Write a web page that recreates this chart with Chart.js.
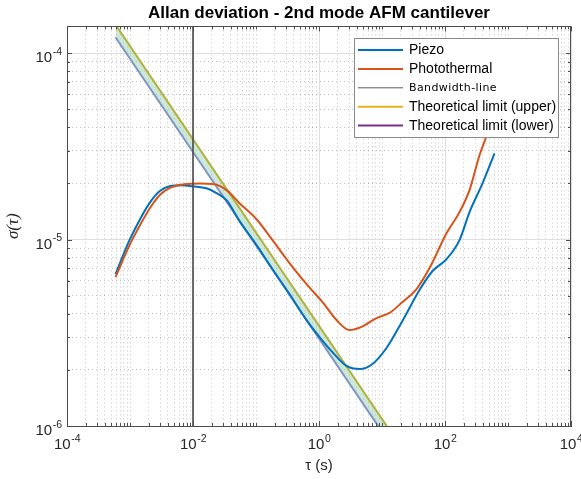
<!DOCTYPE html>
<html>
<head>
<meta charset="utf-8">
<script src="https://cdn.jsdelivr.net/npm/chart.js@4.4.1/dist/chart.umd.min.js"></script>
<style>
html,body{margin:0;padding:0;background:#ffffff;}
#wrap{width:581px;height:479px;}
</style>
</head>
<body>
<div id="wrap"><canvas id="c" width="581" height="479"></canvas></div>
<script>
// ---------- data ----------
const piezoTau = [5.89e-4, 9.82e-4, 1.416e-3, 2.04e-3, 2.94e-3, 4.24e-3, 6.81e-3, 9.82e-3, 1.637e-2, 2.36e-2, 3.40e-2, 5.47e-2, 0.1019, 0.183, 0.340, 0.634, 1.02, 1.637, 2.735, 4.40, 7.06, 11.78, 21.1, 39.4, 63.4, 105.7, 170, 245, 394, 611];
const piezoSigma = [6.53e-6, 9.93e-6, 1.27e-5, 1.567e-5, 1.815e-5, 1.93e-5, 1.954e-5, 1.93e-5, 1.884e-5, 1.774e-5, 1.626e-5, 1.256e-5, 9.33e-6, 6.93e-6, 5.10e-6, 3.70e-6, 3.00e-6, 2.49e-6, 2.10e-6, 2.02e-6, 2.15e-6, 2.62e-6, 3.66e-6, 5.36e-6, 6.78e-6, 7.85e-6, 9.93e-6, 1.403e-5, 2.00e-5, 2.90e-5];
const photoTau = [5.89e-4, 1.019e-3, 1.469e-3, 2.115e-3, 3.05e-3, 4.56e-3, 7.33e-3, 1.268e-2, 2.19e-2, 3.40e-2, 5.47e-2, 0.1019, 0.183, 0.340, 0.634, 1.137, 1.897, 3.05, 4.73, 8.18, 13.15, 21.1, 35.3, 56.8, 105.7, 170, 245, 353, 473, 589];
const photoSigma = [6.29e-6, 9.57e-6, 1.209e-5, 1.491e-5, 1.75e-5, 1.91e-5, 1.98e-5, 2.00e-5, 1.98e-5, 1.84e-5, 1.567e-5, 1.285e-5, 9.93e-6, 7.48e-6, 5.77e-6, 4.62e-6, 3.70e-6, 3.27e-6, 3.40e-6, 3.79e-6, 4.04e-6, 4.62e-6, 5.42e-6, 7.03e-6, 1.081e-5, 1.403e-5, 1.84e-5, 2.83e-5, 3.72e-5, 4.75e-5];
const bandwidthTau = [0.01, 0.01];
const bandwidthSigma = [1e-6, 1.39e-4];
const limitTau = [5.9e-4, 11.9];
const upperSigma = [1.42e-4, 1.0e-6];
const lowerSigma = [1.215e-4, 8.55e-7];

const seriesLabels = ['Piezo', 'Photothermal', 'Bandwidth-line', 'Theoretical limit (upper)', 'Theoretical limit (lower)'];
const legendColors = ['#0072BD', '#D95319', '#5a5a5a', '#EDB120', '#7E2F8E'];

const xTickValues = [1e-4, 1e-2, 1, 1e2, 1e4];
const xTickBase = ['10', '10', '10', '10', '10'];
const xTickExp = ['-4', '-2', '0', '2', '4'];
const yTickValues = [1e-6, 1e-5, 1e-4];
const yTickBase = ['10', '10', '10'];
const yTickExp = ['-6', '-5', '-4'];

const titleText = 'Allan deviation - 2nd mode AFM cantilever';
const xAxisTitle = 'τ (s)';
const yAxisTitle = 'σ(τ)';

const X_MIN = 1e-4, X_MAX = 1e4, Y_MIN = 1e-6, Y_MAX = 1.39e-4;

// ---------- helpers ----------
const zip = (xs, ys) => xs.map((v, i) => ({x: v, y: ys[i]}));
function logTicks(min, max) {
  const out = [];
  for (let e = Math.floor(Math.log10(min)); e <= Math.ceil(Math.log10(max)); e++) {
    for (let k = 1; k <= 9; k++) {
      const v = Number((k * Math.pow(10, e)).toPrecision(6));
      if (v >= min * 0.999999 && v <= max * 1.000001) out.push(v);
    }
  }
  return out;
}
const near = (a, b) => Math.abs(Math.log10(a) - Math.log10(b)) < 1e-6;
const idxIn = (arr, v) => arr.findIndex(t => near(t, v));
const isXMajor = v => idxIn(xTickValues, v) >= 0;
const isYMajor = v => idxIn(yTickValues, v) >= 0;

const MAJOR_GRID = '#dedede';
const MINOR_GRID = 'rgba(0,0,0,0.24)';
const AXIS_COLOR = '#4d4d4d';
const LABEL_COLOR = '#262626';
const BASE_FONT = '15px "Liberation Sans", Arial, sans-serif';
const EXP_FONT = '10.5px "Liberation Sans", Arial, sans-serif';

// ---------- plugins ----------
const boxTicks = {
  id: 'boxTicks',
  afterDatasetsDraw(chart) {
    const {ctx, chartArea: {left, right, top, bottom}, scales: {x, y}} = chart;
    ctx.save();
    ctx.strokeStyle = AXIS_COLOR;
    ctx.lineWidth = 1;
    ctx.beginPath();
    x.ticks.forEach(t => {
      const px = Math.round(x.getPixelForValue(t.value)) + 0.5;
      const L = isXMajor(t.value) ? 5 : 3;
      ctx.moveTo(px, bottom); ctx.lineTo(px, bottom - L);
      ctx.moveTo(px, top); ctx.lineTo(px, top + L);
    });
    y.ticks.forEach(t => {
      const py = Math.round(y.getPixelForValue(t.value)) + 0.5;
      const L = isYMajor(t.value) ? 5 : 3;
      ctx.moveTo(left, py); ctx.lineTo(left + L, py);
      ctx.moveTo(right, py); ctx.lineTo(right - L, py);
    });
    ctx.stroke();
    ctx.beginPath();
    ctx.moveTo(left, Math.round(top) + 0.5); ctx.lineTo(right, Math.round(top) + 0.5);
    ctx.moveTo(Math.round(right) - 0.5, top); ctx.lineTo(Math.round(right) - 0.5, bottom);
    ctx.stroke();
    ctx.restore();
  }
};

// power-of-ten tick labels with a real raised exponent, placed by the scales
const powerLabels = {
  id: 'powerLabels',
  afterDraw(chart) {
    const {ctx, chartArea: {left, bottom}, scales: {x, y}} = chart;
    ctx.save();
    ctx.fillStyle = LABEL_COLOR;
    ctx.textBaseline = 'alphabetic';
    ctx.textAlign = 'left';
    const measure = (b, e) => {
      ctx.font = BASE_FONT; const wb = ctx.measureText(b).width;
      ctx.font = EXP_FONT; const we = ctx.measureText(e).width;
      return [wb, we];
    };
    const draw = (b, e, x0, base) => {
      ctx.font = BASE_FONT; const wb = ctx.measureText(b).width;
      ctx.fillText(b, x0, base);
      ctx.font = EXP_FONT; ctx.fillText(e, x0 + wb + 0.5, base - 7.5);
    };
    xTickValues.forEach((v, i) => {
      const [wb, we] = measure(xTickBase[i], xTickExp[i]);
      const cx = x.getPixelForValue(v);
      draw(xTickBase[i], xTickExp[i], cx - (wb + we) / 2, bottom + 23.3);
    });
    yTickValues.forEach((v, i) => {
      const [wb, we] = measure(yTickBase[i], yTickExp[i]);
      const py = y.getPixelForValue(v);
      draw(yTickBase[i], yTickExp[i], left - 5.5 - (wb + we), py + 9);
    });
    ctx.restore();
  }
};

const boxLegend = {
  id: 'boxLegend',
  afterDraw(chart) {
    const {ctx, chartArea} = chart;
    const w = 204, h = 99;
    const lx = Math.round(chartArea.right - 13 - w), ly = Math.round(chartArea.top + 12);
    ctx.save();
    ctx.fillStyle = '#ffffff';
    ctx.fillRect(lx, ly, w, h);
    ctx.strokeStyle = '#8a8a8a';
    ctx.lineWidth = 1;
    ctx.strokeRect(lx + 0.5, ly + 0.5, w, h);
    chart.data.datasets.forEach((ds, i) => {
      const cy = ly + 12 + i * 18.9;
      ctx.strokeStyle = legendColors[i];
      ctx.lineWidth = i === 2 ? 1 : 2;
      ctx.beginPath();
      ctx.moveTo(lx + 4, cy); ctx.lineTo(lx + 49, cy);
      ctx.stroke();
      ctx.fillStyle = '#000000';
      ctx.textBaseline = 'middle';
      ctx.textAlign = 'left';
      if (i === 2) {
        ctx.font = '11px "DejaVu Sans"';
        try { ctx.letterSpacing = '0.4px'; } catch (e) {}
      } else {
        ctx.font = '14px "Liberation Sans", Arial, sans-serif';
        try { ctx.letterSpacing = '0px'; } catch (e) {}
      }
      ctx.fillText(ds.label, lx + 55, cy + 0.5);
    });
    ctx.restore();
  }
};

// ---------- chart ----------
new Chart(document.getElementById('c'), {
  type: 'line',
  data: {
    datasets: [
      {label: seriesLabels[0], data: zip(piezoTau, piezoSigma), borderColor: '#0072BD', borderWidth: 2, pointRadius: 0, cubicInterpolationMode: 'monotone', fill: false, order: 1},
      {label: seriesLabels[1], data: zip(photoTau, photoSigma), borderColor: '#D95319', borderWidth: 2, pointRadius: 0, cubicInterpolationMode: 'monotone', fill: false, order: 0},
      {label: seriesLabels[2], data: zip(bandwidthTau, bandwidthSigma), borderColor: '#4a4a4a', borderWidth: 1.6, pointRadius: 0, fill: false, order: -1},
      {label: seriesLabels[3], data: zip(limitTau, upperSigma), borderColor: '#b1b13a', borderWidth: 2, pointRadius: 0, fill: {target: '+1'}, backgroundColor: 'rgba(135,198,162,0.42)', order: 3},
      {label: seriesLabels[4], data: zip(limitTau, lowerSigma), borderColor: '#8087d0', borderWidth: 2, pointRadius: 0, fill: false, order: 4}
    ]
  },
  options: {
    responsive: false,
    animation: false,
    devicePixelRatio: 1,
    layout: {padding: {left: 0, right: 10, top: 0, bottom: 0}},
    plugins: {
      legend: {display: false},
      tooltip: {enabled: false},
      title: {
        display: true, fullSize: false, text: titleText, color: '#000000',
        font: {family: '"Liberation Sans", Arial, sans-serif', size: 17, weight: 'bold'},
        padding: {top: 3, bottom: 3}
      }
    },
    scales: {
      x: {
        type: 'logarithmic', min: X_MIN, max: X_MAX,
        afterBuildTicks: s => { s.ticks = logTicks(X_MIN, X_MAX).map(v => ({value: v})); },
        afterFit: s => { s.height = 53; s.paddingLeft = 0; s.paddingRight = 0; },
        grid: {
          drawTicks: false, lineWidth: 1,
          color: c => (c.tick && isXMajor(c.tick.value)) ? MAJOR_GRID : MINOR_GRID
        },
        border: {
          display: true, color: AXIS_COLOR, width: 1,
          dash: c => (c.tick && !isXMajor(c.tick.value)) ? [1, 3] : []
        },
        ticks: {display: false, autoSkip: false, maxRotation: 0, minRotation: 0},
        title: {
          display: true, text: xAxisTitle, color: LABEL_COLOR,
          font: {family: '"Liberation Sans", Arial, sans-serif', size: 15},
          padding: {top: 0, bottom: 4}
        }
      },
      y: {
        type: 'logarithmic', min: Y_MIN, max: Y_MAX,
        afterBuildTicks: s => { s.ticks = logTicks(Y_MIN, Y_MAX).map(v => ({value: v})); },
        afterFit: s => { s.width = 67; s.paddingTop = 0; s.paddingBottom = 0; },
        grid: {
          drawTicks: false, lineWidth: 1,
          color: c => (c.tick && isYMajor(c.tick.value)) ? MAJOR_GRID : MINOR_GRID
        },
        border: {
          display: true, color: AXIS_COLOR, width: 1,
          dash: c => (c.tick && !isYMajor(c.tick.value)) ? [1, 3] : []
        },
        ticks: {display: false, autoSkip: false},
        title: {
          display: true, text: yAxisTitle, color: LABEL_COLOR,
          font: {family: '"Liberation Serif", "DejaVu Serif", serif', size: 17, style: 'italic'},
          padding: {top: 3, bottom: 0}
        }
      }
    }
  },
  plugins: [boxTicks, powerLabels, boxLegend]
});
</script>
</body>
</html>
